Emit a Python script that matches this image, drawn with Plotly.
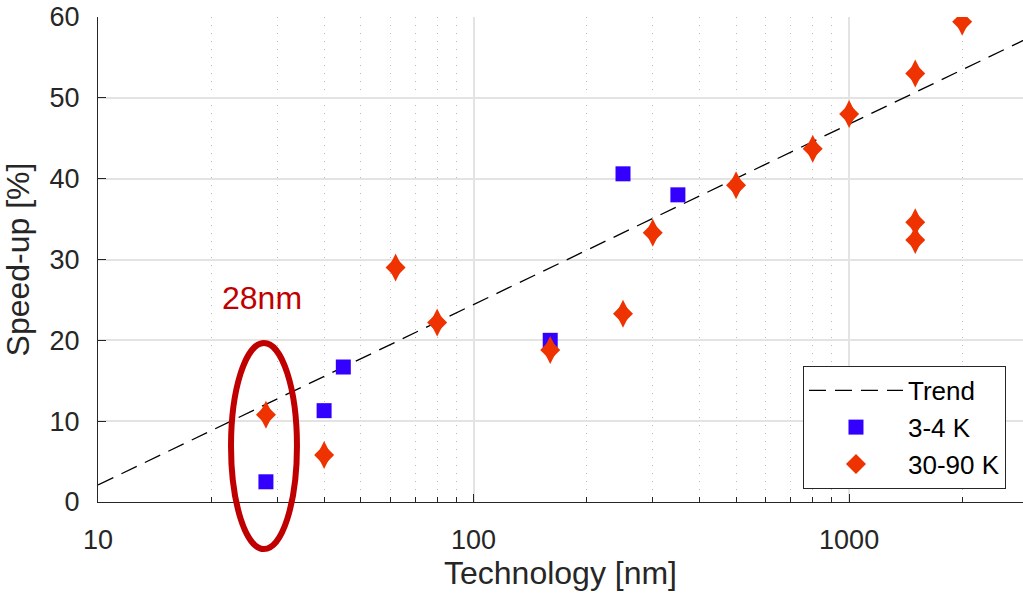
import plotly.graph_objects as go

# ---- data ----
cold_x = [28, 40, 45, 160, 250, 350]          # 3-4 K
cold_y = [2.5, 11.3, 16.7, 20.0, 40.6, 38.0]

warm_x = [28, 40, 62, 80, 160, 250, 300, 500, 800, 1000, 1500, 1500, 1500, 2000]   # 30-90 K
warm_y = [10.8, 5.8, 29.0, 22.2, 18.8, 23.3, 33.3, 39.2, 43.7, 48.0, 53.0, 34.6, 32.4, 59.4]

trend_x = [10, 3000]
trend_y = [2.1, 57.4]

x_ticks = [10, 100, 1000]
x_ticklabels = ["10", "100", "1000"]
y_ticks = [0, 10, 20, 30, 40, 50, 60]

FONT = "Liberation Sans, Arial, Helvetica, sans-serif"
TXT = "#262626"
BLUE = "#3300FF"
RED = "#EE3300"

fig = go.Figure()
fig.add_trace(go.Scatter(x=trend_x, y=trend_y, mode="lines", name="Trend",
                         line=dict(color="black", width=1.3, dash="17px,9px")))
fig.add_trace(go.Scatter(x=cold_x, y=cold_y, mode="markers", name="3-4 K",
                         marker=dict(symbol="square", size=15, color=BLUE,
                                     line=dict(width=0))))
# diamonds: overlay a tall and a regular diamond to get a ~0.7 aspect rhombus
fig.add_trace(go.Scatter(x=warm_x, y=warm_y, mode="markers", name="30-90 K",
                         showlegend=False, legendgroup="warm",
                         marker=dict(symbol="diamond-tall", size=20, color=RED,
                                     line=dict(width=0))))
fig.add_trace(go.Scatter(x=warm_x, y=warm_y, mode="markers", name="30-90 K",
                         legendgroup="warm",
                         marker=dict(symbol="diamond", size=15.4, color=RED,
                                     line=dict(width=0))))

# 28nm highlight ellipse (paper coordinates)
fig.add_shape(type="circle", xref="paper", yref="paper",
              x0=0.1438, x1=0.2151, y0=-0.0969, y1=0.3278,
              line=dict(color="#C00000", width=6), layer="above")
fig.add_annotation(text="28nm", xref="paper", yref="paper", x=0.177, y=0.4206,
                   xanchor="center", yanchor="middle",
                   showarrow=False, font=dict(family=FONT, size=32, color="#C00000"))

fig.update_layout(
    width=1023, height=596,
    margin=dict(l=98, r=0, t=17, b=94),
    paper_bgcolor="white", plot_bgcolor="white",
    font=dict(family=FONT, size=26, color=TXT),
    showlegend=True,
    legend=dict(x=0.9816, y=0.027, xanchor="right", yanchor="bottom",
                bgcolor="white", bordercolor="#262626", borderwidth=1,
                font=dict(family=FONT, size=26, color="black"),
                itemwidth=94, tracegroupgap=0),
)

fig.update_xaxes(type="log", range=[1, 3.463],
                 tickvals=x_ticks, ticktext=x_ticklabels,
                 ticks="inside", ticklen=8, tickcolor=TXT,
                 showline=True, linecolor=TXT, linewidth=1,
                 showgrid=True, gridcolor="#E3E3E3", gridwidth=1.5,
                 minor=dict(dtick="D1", ticks="inside", ticklen=5, tickcolor=TXT,
                            showgrid=True, gridcolor="#B8B8B8", griddash="1px,7px", gridwidth=1),
                 zeroline=False, ticklabelstandoff=14,
                 title=dict(text="Technology [nm]", font=dict(size=32, color=TXT), standoff=6),
                 tickfont=dict(size=27, color=TXT))
fig.update_yaxes(range=[0, 60], tickvals=y_ticks,
                 ticks="inside", ticklen=8, tickcolor=TXT,
                 showline=True, linecolor=TXT, linewidth=1,
                 showgrid=True, gridcolor="#E3E3E3", gridwidth=1.5,
                 zeroline=False, ticklabelstandoff=12,
                 title=dict(text="Speed-up [%]", font=dict(size=32, color=TXT), standoff=12),
                 tickfont=dict(size=27, color=TXT))

fig.write_html("out.html")
